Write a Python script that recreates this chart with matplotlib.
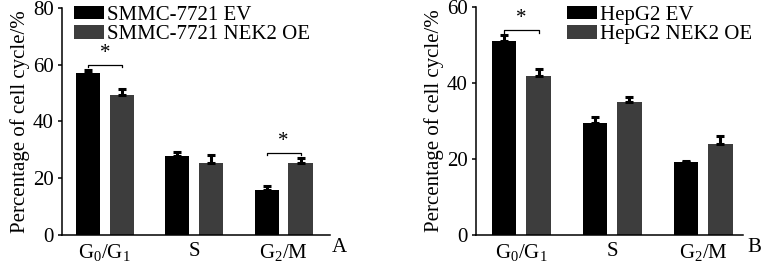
import numpy as np
import matplotlib

matplotlib.use("Agg")
import matplotlib.pyplot as plt

plt.rcParams["font.family"] = ["Liberation Serif", "DejaVu Serif"]
plt.rcParams["mathtext.fontset"] = "custom"
plt.rcParams["mathtext.rm"] = "Liberation Serif"

PHASES = ["G$_\\mathrm{0}$/G$_\\mathrm{1}$", "S", "G$_\\mathrm{2}$/M"]

# panel A: SMMC-7721
A_LABELS = ["SMMC-7721 EV", "SMMC-7721 NEK2 OE"]
A_EV = [57.0, 28.0, 16.0]
A_EV_ERR = [1.3, 1.2, 1.3]
A_OE = [49.5, 25.3, 25.3]
A_OE_ERR = [2.0, 3.0, 1.7]
A_SIG = [(0, 60.0), (2, 29.0)]  # (group, bracket height)

# panel B: HepG2
B_LABELS = ["HepG2 EV", "HepG2 NEK2 OE"]
B_EV = [51.1, 29.4, 19.1]
B_EV_ERR = [1.5, 1.7, 0.4]
B_OE = [41.8, 35.0, 24.0]
B_OE_ERR = [2.0, 1.4, 2.1]
B_SIG = [(0, 54.0)]

EV_COL, OE_COL = "#000000", "#3d3d3d"
W, OFF = 0.27, 0.19
FS = 15


def panel(ax, ev, ev_err, oe, oe_err, labels, sig, ymax, xlim, tag, tagx, leg_xy):
    x = np.arange(len(PHASES))
    b1 = ax.bar(x - OFF, ev, W, color=EV_COL, label=labels[0])
    b2 = ax.bar(x + OFF, oe, W, color=OE_COL, label=labels[1])
    for xs, v, e in [(x - OFF, ev, ev_err), (x + OFF, oe, oe_err)]:
        ax.errorbar(xs, v, yerr=[np.zeros(len(v)), e], fmt="none", ecolor="black",
                    elinewidth=2.2, capsize=3.0, capthick=2.2)
    tick_h = ymax * 0.012
    for g, h in sig:
        x0, x1 = g - OFF, g + OFF
        ax.plot([x0, x0, x1, x1], [h - tick_h, h, h, h - tick_h], color="black", lw=0.9)
        ax.text(g, h + ymax * 0.008, "*", ha="center", va="bottom", fontsize=FS)
    ax.set_xlim(*xlim)
    ax.set_ylim(0, ymax)
    ax.set_yticks(np.arange(0, ymax + 1, 20))
    ax.set_xticks(x, PHASES)
    ax.tick_params(axis="x", length=0, pad=5, labelsize=FS)
    ax.tick_params(axis="y", direction="out", length=3, width=1.1, pad=3, labelsize=FS)
    for s in ["top", "right"]:
        ax.spines[s].set_visible(False)
    for s in ["left", "bottom"]:
        ax.spines[s].set_linewidth(1.1)
    ax.set_ylabel("Percentage of cell cycle/%", fontsize=FS, labelpad=2)
    ax.legend(handles=[b1, b2], loc="upper left", bbox_to_anchor=leg_xy,
              bbox_transform=ax.figure.transFigure, frameon=False, fontsize=FS,
              handlelength=1.45, handleheight=0.62, handletextpad=0.15,
              labelspacing=0.0, borderpad=0, borderaxespad=0)
    ax.figure.text(tagx, 1 - 248 / 263, tag, ha="center", va="center", fontsize=FS)


fig = plt.figure(figsize=(7.61, 2.63), dpi=100)
H = 263.0
axA = fig.add_axes([62 / 761, 28 / H, 268 / 761, 227 / H])
axB = fig.add_axes([476 / 761, 28 / H, 267 / 761, 228 / H])

panel(axA, A_EV, A_EV_ERR, A_OE, A_OE_ERR, A_LABELS, A_SIG, 80, (-0.48, 2.52),
      "A", 339 / 761, (74 / 761, 1 - 6 / H))
panel(axB, B_EV, B_EV_ERR, B_OE, B_OE_ERR, B_LABELS, B_SIG, 60, (-0.50, 2.44),
      "B", 754 / 761, (567 / 761, 1 - 6 / H))

fig.savefig("out.png", dpi=100)
